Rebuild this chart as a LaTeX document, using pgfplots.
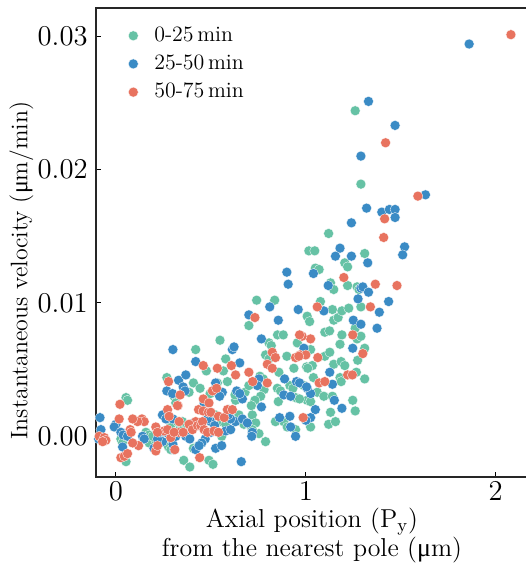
\documentclass[border=0pt]{standalone}
\usepackage{fontspec}
\newfontfamily\lib{Liberation Serif}
\usepackage{pgfplots}
\pgfplotsset{compat=1.18}
\definecolor{cg}{HTML}{66C2A5}
\definecolor{cb}{HTML}{3A8BC5}
\definecolor{cr}{HTML}{E8735F}
\begin{document}
\fontsize{12}{14}\selectfont
\begin{tikzpicture}
\begin{axis}[
  name=ax,
  scale only axis, width=216bp, height=234.5bp,
  xmin=-0.105, xmax=2.17, ymin=-0.00305, ymax=0.0321,
  xtick={0,1,2}, ytick={0,0.01,0.02,0.03},
  tick pos=left,
  scaled y ticks=false,
  yticklabel style={/pgf/number format/fixed, /pgf/number format/fixed zerofill, /pgf/number format/precision=2},
  tick align=inside, major tick length=2.5bp,
  tick style={black, line width=0.5bp},
  tick label style={font=\fontsize{13.5}{15}\selectfont},
  xticklabel style={yshift=1.5bp},
  label style={font=\fontsize{13}{12.5}\selectfont},
  xlabel={Axial position (P$_{\mathrm{y}}$)\\from the nearest pole ({\lib μ}m)},
  xlabel style={align=center, yshift=4.5bp},
  ylabel={Instantaneous velocity ({\lib μ}m/min)},
  ylabel style={at={(ticklabel cs:0.44)}, yshift=-6bp, font=\fontsize{12}{14}\selectfont},
  axis line style={line width=0.9bp, black!85},
  clip=false,
  legend cell align=left,
  legend style={draw=none, fill=none, at={(rel axis cs:0.06,0.978)}, anchor=north west,
    font=\fontsize{11}{13}\selectfont, row sep=1bp, column sep=6bp},
  legend image code/.code={\draw[#1] plot coordinates {(0bp,0bp)};},
]
\addplot[only marks, mark=*, mark size=2.5bp, draw=white, line width=0.15bp, fill=cg] coordinates {
(1.26,0.0244) (1.29,0.0189) (1.12,0.0152) (1.016,0.0139) (1.047,0.0139)
(1.31,0.0137) (1.205,0.0130) (1.22,0.0127) (1.05,0.0126) (1.07,0.0125)
(1.13,0.0115) (1.147,0.0110) (1.22,0.0113) (1.27,0.0112) (1.28,0.0110)
(1.29,0.0097) (1.077,0.0101) (1.007,0.0090) (1.02,0.0086) (1.14,0.0095)
(1.147,0.0087) (1.17,0.0089) (1.19,0.0094) (1.226,0.0096) (1.26,0.0081)
(1.10,0.0078) (1.125,0.0079) (1.19,0.0076) (1.27,0.0073) (1.29,0.0075)
(1.18,0.0069) (1.31,0.0066) (1.025,0.0065) (1.10,0.0060) (1.126,0.0063)
(1.273,0.0057) (1.004,0.0052) (1.034,0.0053) (1.147,0.0054) (1.186,0.0056)
(1.205,0.0053) (1.266,0.0048) (1.04,0.0044) (1.18,0.0044) (1.186,0.0041)
(1.31,0.0043) (1.06,0.0033) (1.095,0.0030) (1.14,0.0030) (1.247,0.0027)
(1.007,0.0027) (1.025,0.0026) (1.26,0.0019) (1.13,0.0018) (1.12,0.0009)
(1.156,0.0011) (1.025,0.0007) (0.741,0.0102) (0.836,0.0102) (0.70,0.0083)
(0.851,0.0076) (0.881,0.0076) (0.806,0.0070) (0.818,0.0068) (0.955,0.0070)
(0.90,0.0060) (0.788,0.0061) (0.806,0.0058) (0.937,0.0051) (1.01,0.0051)
(0.858,0.0048) (0.758,0.0045) (0.776,0.0043) (0.916,0.0038) (0.932,0.0036)
(0.85,0.0036) (0.867,0.0034) (0.946,0.0029) (0.967,0.0028) (0.78,0.0035)
(0.762,0.0030) (0.732,0.0027) (0.68,0.0033) (0.70,0.0038) (0.63,0.0027)
(0.713,0.0023) (0.718,0.0016) (0.84,0.0011) (0.884,0.0011) (0.902,0.0007)
(0.946,0.0005) (0.753,0.0002) (0.788,-0.0004) (0.42,0.0065) (0.548,0.0072)
(0.476,0.0049) (0.578,0.0058) (0.566,0.0049) (0.587,0.0041) (0.268,0.0044)
(0.408,0.0040) (0.443,0.0036) (0.385,0.0033) (0.496,0.0032) (0.52,0.0034)
(0.534,0.0040) (0.627,0.0031) (0.306,0.0030) (0.315,0.0025) (0.525,0.0016)
(0.587,0.0016) (0.557,0.0011) (0.557,0.0000) (0.578,0.0009) (0.674,0.0009)
(0.709,0.0008) (0.736,0.0010) (0.718,0.0005) (0.648,0.0016) (0.595,0.0020)
(0.408,-0.0009) (0.435,-0.0007) (0.49,-0.0018) (0.511,-0.0021) (0.357,-0.0018)
(0.389,-0.0023) (0.263,-0.0005) (0.277,-0.0008) (0.289,-0.0010) (0.175,-0.0005)
(0.21,-0.0003) (0.289,0.0008) (0.34,0.0007) (0.20,0.0001) (0.228,-0.0001)
(0.272,0.0013) (0.324,0.0011) (0.35,0.0011) (0.158,0.0003) (0.175,0.0001)
(0.193,0.0000) (0.053,0.0029) (0.061,0.0027) (0.026,-0.0002) (0.035,-0.0005)
(0.053,0.0000) (0.053,-0.0019) (0.855,0.0026) (0.99,0.0038)
};
\addlegendentry{0-25\,min}
\addplot[only marks, mark=*, mark size=2.5bp, draw=white, line width=0.15bp, fill=cb] coordinates {
(1.86,0.0294) (1.33,0.0251) (1.47,0.0233) (1.29,0.0210) (1.63,0.0181)
(1.32,0.0171) (1.40,0.0168) (1.44,0.0170) (1.47,0.0170) (1.47,0.0164)
(1.24,0.0160) (1.18,0.0141) (1.156,0.0135) (1.24,0.0135) (1.52,0.0142)
(1.51,0.0136) (1.326,0.0130) (1.04,0.0122) (1.118,0.0113) (1.29,0.0111)
(1.30,0.0112) (1.33,0.0108) (1.436,0.0101) (1.275,0.0103) (1.095,0.0094)
(1.25,0.0087) (1.29,0.0084) (1.387,0.0093) (1.375,0.0081) (1.247,0.0066)
(0.99,0.0066) (1.126,0.0048) (1.14,0.0039) (1.007,0.0036) (1.025,0.0032)
(1.15,0.0027) (1.19,0.0021) (1.05,0.0020) (1.025,0.0014) (1.0,0.0012)
(0.90,0.0123) (0.907,0.0114) (0.81,0.0097) (0.96,0.0095) (0.70,0.0091)
(0.855,0.0087) (0.766,0.0073) (0.753,0.0043) (0.745,0.0038) (0.888,0.0043)
(0.951,0.0041) (0.967,0.0040) (1.004,0.0037) (0.884,0.0031) (0.92,0.0030)
(0.666,0.0028) (0.636,0.0034) (0.652,0.0032) (0.766,0.0022) (0.862,0.0014)
(0.916,0.0015) (0.92,0.0007) (0.946,0.0000) (0.718,0.0003) (0.715,0.0000)
(0.66,-0.0019) (0.30,0.0065) (0.42,0.0056) (0.613,0.0065) (0.622,0.0067)
(0.652,0.0055) (0.268,0.0034) (0.298,0.0032) (0.33,0.0042) (0.368,0.0046)
(0.354,0.0037) (0.364,0.0034) (0.464,0.0025) (0.56,0.0033) (0.546,0.0030)
(0.525,0.0040) (0.50,0.0011) (0.482,0.0013) (0.389,0.0008) (0.41,0.0010)
(0.50,0.0003) (0.52,0.0008) (0.578,0.0004) (0.604,0.0005) (0.63,0.0011)
(0.666,0.0013) (0.692,0.0010) (0.604,0.0013) (0.592,0.0016) (0.47,-0.0002)
(0.452,-0.0005) (0.42,-0.0010) (0.438,-0.0007) (0.525,-0.0009) (0.557,-0.0007)
(0.306,-0.0010) (0.30,-0.0006) (0.245,-0.0004) (0.219,-0.0002) (0.20,-0.0009)
(0.315,0.0000) (0.368,0.0000) (0.389,-0.0002) (0.263,0.0003) (0.231,0.0003)
(0.245,0.0016) (0.263,0.0013) (0.30,0.0013) (0.14,0.0000) (0.149,-0.0002)
(0.0,0.0009) (-0.009,0.0007) (0.026,0.0003) (0.038,0.0001) (0.061,0.0000)
(0.035,-0.0008) (-0.084,0.0014) (-0.079,0.0005) (-0.091,-0.0002)
};
\addlegendentry{25-50\,min}
\addplot[only marks, mark=*, mark size=2.5bp, draw=white, line width=0.15bp, fill=cr] coordinates {
(2.08,0.0301) (1.42,0.0220) (1.59,0.0180) (1.415,0.0163) (1.41,0.0149)
(1.20,0.0119) (1.366,0.0114) (1.48,0.0113) (1.34,0.0097) (1.06,0.0097)
(1.247,0.0076) (1.025,0.0073) (0.98,0.0075) (1.30,0.0062) (0.97,0.0061)
(1.0,0.0061) (1.063,0.0059) (1.22,0.0046) (1.245,0.0046) (1.07,0.0040)
(1.10,0.0041) (0.986,0.0014) (0.732,0.0089) (0.967,0.0076) (0.823,0.0063)
(0.84,0.0059) (0.946,0.0059) (0.963,0.0060) (0.797,0.0054) (0.823,0.0051)
(0.72,0.0041) (0.797,0.0040) (0.46,0.0053) (0.534,0.0051) (0.608,0.0053)
(0.63,0.0046) (0.70,0.0048) (0.277,0.0041) (0.338,0.0031) (0.46,0.0028)
(0.49,0.0025) (0.508,0.0034) (0.53,0.0036) (0.327,0.0023) (0.435,0.0020)
(0.459,0.0019) (0.487,0.0018) (0.50,0.0018) (0.54,0.0015) (0.57,0.0014)
(0.42,0.0011) (0.385,0.0009) (0.403,0.0005) (0.43,0.0008) (0.447,0.0008)
(0.456,0.0011) (0.464,0.0005) (0.482,0.0003) (0.516,0.0004) (0.54,0.0003)
(0.587,0.0020) (0.613,0.0020) (0.441,-0.0016) (0.31,-0.0010) (0.21,-0.0011)
(0.219,-0.0007) (0.289,-0.0001) (0.33,0.0003) (0.354,0.0003) (0.254,0.0004)
(0.272,0.0005) (0.306,0.0003) (0.272,0.0020) (0.28,0.0015) (0.333,0.0011)
(0.324,0.0023) (0.21,0.0007) (0.219,0.0003) (0.119,-0.0007) (0.088,-0.0005)
(0.075,0.0005) (0.137,0.0013) (0.149,0.0011) (0.114,0.0011) (0.088,0.0013)
(0.08,0.0003) (0.017,0.0013) (0.021,0.0024) (0.026,-0.0016) (0.044,-0.0015)
(0.061,-0.0013) (-0.088,0.0000) (-0.061,-0.0001) (-0.053,-0.0003) (-0.07,-0.0004)
};
\addlegendentry{50-75\,min}
\coordinate (sw) at (rel axis cs:0,0);
\coordinate (ne) at (rel axis cs:1,1);
\end{axis}
\pgfresetboundingbox
\path ([shift={(-48bp,-44bp)}]sw) rectangle ([shift={(-1bp,4bp)}]ne);
\end{tikzpicture}
\end{document}
